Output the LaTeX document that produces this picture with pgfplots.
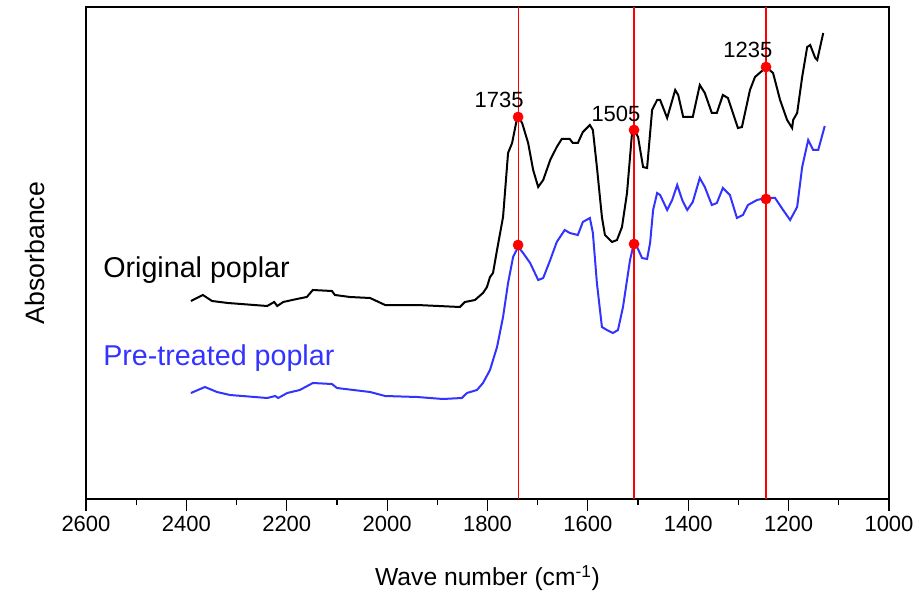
\documentclass[border=0pt]{standalone}
\usepackage{pgfplots}
\pgfplotsset{compat=1.18}
\usepackage{fontspec}
\setmainfont{Liberation Sans}
\definecolor{treated}{RGB}{51,51,255}

\begin{document}
\begin{tikzpicture}
\begin{axis}[
  scale only axis, width=602.25pt, height=369pt,
  x dir=reverse, xmin=1000, xmax=2600, ymin=0, ymax=492,
  xtick={1000,1200,...,2600}, minor x tick num=1,
  ytick=\empty, xtick pos=bottom,
  tick align=outside, major tick length=9pt, minor tick length=4.5pt,
  every tick/.style={black, line width=0.9pt},
  axis line style={line width=1.1pt},
  xticklabel style={font=\fontsize{16.5}{19}\selectfont},
  /pgf/number format/assume math mode=true, /pgf/number format/1000 sep={},
  clip=false,
]
% marker lines
\addplot[red, line width=1.2pt, ycomb, mark=none] coordinates {(1738.5,492) (1508,492) (1245,492)};
% original poplar
\addplot[black, line width=1.5pt] coordinates {
(2391,198) (2367,204) (2349,198) (2317,196) (2239,193) (2225,197) (2219,193) (2207,197)
(2180,200) (2160,202) (2148,209) (2110,208) (2104,204) (2074,202) (2034,201) (2004,194)
(1940,194) (1855,192) (1845,197) (1825,199) (1809,206) (1801,212) (1795,222) (1789,226)
(1781,249) (1769,282) (1759,346) (1751,356) (1741,381) (1739,382) (1731,376) (1719,356)
(1709,329) (1699,312) (1689,319) (1675,339) (1662,352) (1652,360) (1636,360) (1630,356)
(1620,356) (1610,367) (1596,374) (1590,369) (1582,332) (1572,282) (1566,264) (1552,257)
(1542,259) (1532,272) (1522,306) (1512,366) (1508,369) (1500,362) (1490,332) (1482,331)
(1472,389) (1462,399) (1456,399) (1442,381) (1426,409) (1420,404) (1410,382) (1391,382)
(1377,414) (1367,406) (1353,386) (1343,386) (1331,404) (1321,401) (1301,371) (1293,372)
(1277,409) (1267,422) (1251,429) (1245,432) (1231,426) (1217,399) (1203,379) (1193,371)
(1191,379) (1183,386) (1173,422) (1163,452) (1157,454) (1147,441) (1143,439) (1131,466)};
% pre-treated poplar
\addplot[treated, line width=1.5pt] coordinates {
(2391,106) (2363,112) (2339,107) (2313,104) (2239,101) (2223,103) (2217,101) (2199,106)
(2174,109) (2148,116) (2110,115) (2100,111) (2034,107) (2004,103) (1940,102) (1889,100)
(1851,101) (1841,106) (1821,109) (1809,116) (1795,129) (1781,152) (1769,182) (1759,216)
(1749,242) (1739,252) (1729,246) (1715,236) (1699,219) (1689,221) (1675,239) (1662,257)
(1646,269) (1636,266) (1620,264) (1610,277) (1596,281) (1590,266) (1582,216) (1572,172)
(1562,169) (1550,166) (1540,169) (1530,192) (1516,239) (1510,252) (1502,252) (1492,241)
(1482,240) (1476,256) (1470,289) (1462,306) (1456,304) (1442,289) (1432,299) (1422,314)
(1412,299) (1402,289) (1391,297) (1377,321) (1367,312) (1353,294) (1343,296) (1331,311)
(1317,304) (1303,281) (1291,284) (1281,294) (1263,299) (1245,301) (1227,301) (1211,289)
(1197,279) (1183,292) (1173,332) (1161,359) (1151,349) (1141,349) (1128,373)};
% red lines again on top, as in the reference
\addplot[red, line width=1.2pt, ycomb, mark=none] coordinates {(1738.5,492) (1508,492) (1245,492)};
\addplot[only marks, mark=*, mark size=3.8pt, red] coordinates {
(1739,382) (1508,369) (1245,432) (1739,254) (1508,255) (1245,300)};

\node[font=\fontsize{16.5}{19}\selectfont] at (axis cs:1777,399) {1735};
\node[font=\fontsize{16.5}{19}\selectfont] at (axis cs:1544,385) {1505};
\node[font=\fontsize{16.5}{19}\selectfont] at (axis cs:1281,449) {1235};
\node[font=\fontsize{21.5}{25}\selectfont, anchor=west, inner sep=0pt] at (axis cs:2566,229) {Original poplar};
\node[font=\fontsize{21.5}{25}\selectfont, anchor=west, inner sep=0pt, text=treated] at (axis cs:2566,141) {Pre-treated poplar};
\node[font=\fontsize{18.5}{23}\selectfont] at ([yshift=-59.25pt]rel axis cs:0.5,0) {Wave number (cm\textsuperscript{-1})};
\node[font=\fontsize{20}{23}\selectfont, rotate=90] at ([xshift=-38.25pt]rel axis cs:0,0.5) {Absorbance};
\coordinate (bl) at (rel axis cs:0,0);
\coordinate (tr) at (rel axis cs:1,1);
\end{axis}
\pgfresetboundingbox
\path ([shift={(-64.5pt,-73.5pt)}]bl) rectangle ([shift={(23.25pt,5.25pt)}]tr);
\end{tikzpicture}
\end{document}
